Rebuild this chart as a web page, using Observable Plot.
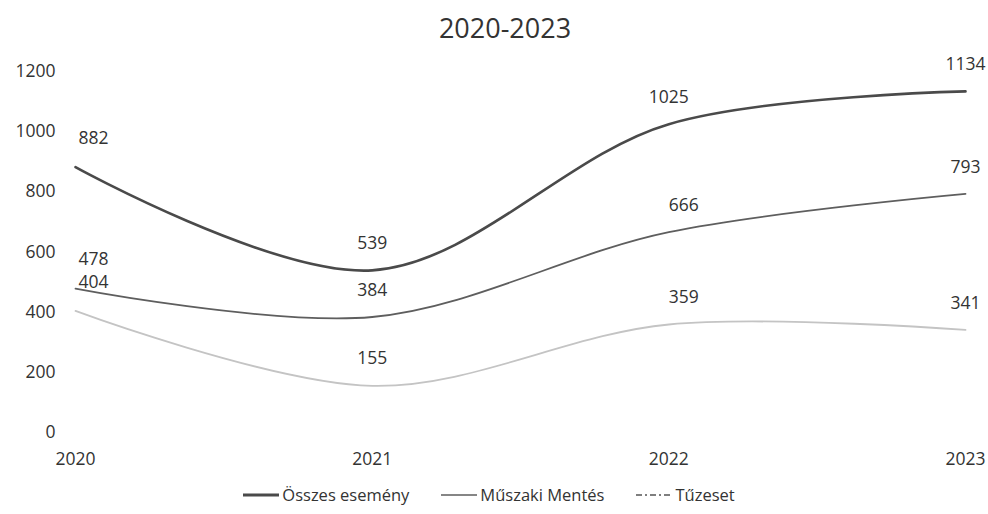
<!DOCTYPE html>
<html>
<head>
<meta charset="utf-8">
<script src="https://cdn.jsdelivr.net/npm/d3@7"></script>
<script src="https://cdn.jsdelivr.net/npm/@observablehq/plot@0.6"></script>
<style>
  body { margin: 0; background: #fff; font-family: "Open Sans", sans-serif; color: #333; }
  #title { height: 45px; line-height: 56px; text-align: center; font-size: 27px; padding-left: 22px; }
  #legend { height: 39px; display: flex; justify-content: center; align-items: center; gap: 32px; font-size: 16.5px; padding-right: 10px; }
  .item { display: flex; align-items: center; gap: 3px; }
</style>
</head>
<body>
<div id="title">2020-2023</div>
<div id="chart"></div>
<div id="legend"></div>
<script>
const years = [2020, 2021, 2022, 2023];
const seriesNames = ["Összes esemény", "Műszaki Mentés", "Tűzeset"];
const osszes = [882, 539, 1025, 1134];
const muszaki = [478, 384, 666, 793];
const tuzeset = [404, 155, 359, 341];
const yTicks = [0, 200, 400, 600, 800, 1000, 1200];

const valuesBySeries = [osszes, muszaki, tuzeset];
const data = [];
seriesNames.forEach((s, i) => years.forEach((y, j) => data.push({series: s, year: y, value: valuesBySeries[i][j]})));

const colors = ["#4a4a4a", "#5e5e5e", "#c4c4c4"];
const widths = [2.6, 1.8, 1.8];

const marks = [];
seriesNames.forEach((s, i) => {
  marks.push(Plot.line(data.filter(d => d.series === s), {
    x: "year", y: "value", curve: "catmull-rom",
    stroke: colors[i], strokeWidth: widths[i]
  }));
});
const labelOpts = {x: "year", y: "value", text: d => String(d.value), fontSize: 17.5, fill: "#333"};
marks.push(Plot.text(data.filter(d => d.year === 2020), {...labelOpts, dy: -29, dx: 18}));
marks.push(Plot.text(data.filter(d => d.year === 2022 && d.series !== "Összes esemény"), {...labelOpts, dy: -27, dx: 15}));
marks.push(Plot.text(data.filter(d => d.year !== 2020 && !(d.year === 2022 && d.series !== "Összes esemény")), {...labelOpts, dy: -27, dx: 0}));

const chart = Plot.plot({
  width: 988,
  height: 430,
  marginTop: 26,
  marginBottom: 43,
  marginLeft: 75,
  marginRight: 23,
  style: { fontFamily: "Open Sans, sans-serif", fontSize: "17.5px", color: "#333", background: "#fff" },
  x: { domain: [2020, 2023], label: null },
  y: { domain: [0, 1200], label: null },
  marks: [
    Plot.axisX({ticks: years, tickFormat: d => String(d), tickSize: 0, tickPadding: 20, fontSize: 17.5, label: null}),
    Plot.axisY({ticks: yTicks, tickFormat: d => String(d), tickSize: 0, tickPadding: 20, fontSize: 17.5, label: null}),
    ...marks
  ]
});
document.getElementById("chart").appendChild(chart);

const legend = document.getElementById("legend");
const dashes = ["none", "none", "6,3,2,3"];
seriesNames.forEach((s, i) => {
  const item = document.createElement("div");
  item.className = "item";
  item.innerHTML = `<svg width="36" height="8"><line x1="0" y1="4" x2="36" y2="4" stroke="${i === 2 ? '#555' : colors[i]}" stroke-width="${i === 0 ? 3 : 1.5}" stroke-dasharray="${dashes[i]}"/></svg><span>${s}</span>`;
  legend.appendChild(item);
});
</script>
</body>
</html>
